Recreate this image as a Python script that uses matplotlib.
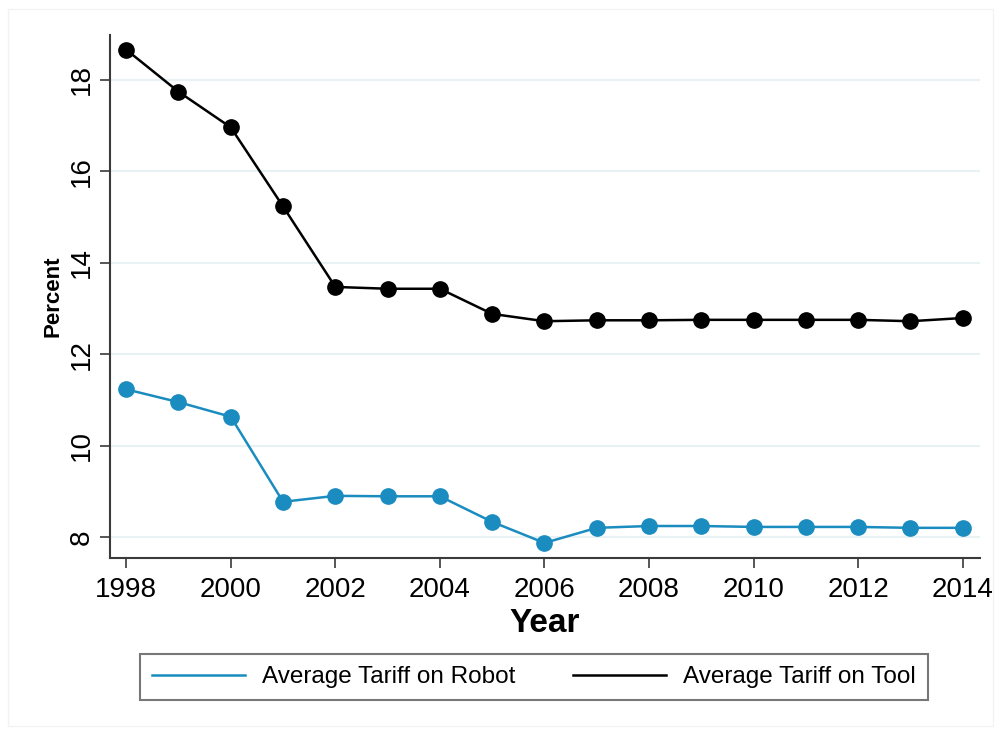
import matplotlib.pyplot as plt
from matplotlib.patches import Rectangle

# Average tariffs (percent)
years = list(range(1998, 2015))
tariff_tool = [18.66, 17.74, 16.96, 15.23, 13.47, 13.43, 13.43, 12.88, 12.72,
               12.74, 12.74, 12.75, 12.75, 12.75, 12.75, 12.72, 12.79]
tariff_robot = [11.23, 10.95, 10.63, 8.77, 8.90, 8.89, 8.89, 8.33, 7.87,
                8.20, 8.24, 8.24, 8.22, 8.22, 8.22, 8.20, 8.20]
x_ticks = list(range(1998, 2015, 2))
y_ticks = [8, 10, 12, 14, 16, 18]

ROBOT = "#1a8cbf"
GRID = "#e8f1f3"

plt.rcParams["font.family"] = ["Liberation Sans", "DejaVu Sans"]

fig = plt.figure(figsize=(10, 7.3), dpi=100)
ax = fig.add_axes([0.110, 0.2356, 0.870, 0.7164])

# faint outer frame like the Stata graph region
fig.patches.append(Rectangle((0.008, 0.005), 0.985, 0.983, transform=fig.transFigure,
                             fill=False, edgecolor="#f3f3f3", lw=1.0))

ax.plot(years, tariff_robot, color=ROBOT, lw=1.8, marker="o", ms=11,
        label="Average Tariff on Robot", zorder=3)
ax.plot(years, tariff_tool, color="black", lw=1.8, marker="o", ms=11,
        label="Average Tariff on Tool", zorder=3)

ax.set_xlim(1997.69, 2014.33)
ax.set_ylim(7.54, 18.98)
ax.set_xticks(x_ticks)
ax.set_yticks(y_ticks)
ax.grid(axis="y", color=GRID, lw=1.5)
ax.set_axisbelow(True)

for s in ["top", "right"]:
    ax.spines[s].set_visible(False)
for s in ["left", "bottom"]:
    ax.spines[s].set_color("#3a3a3a")
    ax.spines[s].set_linewidth(1.5)

ax.tick_params(axis="both", length=7, width=1.2, color="#3a3a3a", labelsize=20)
ax.tick_params(axis="x", pad=7)
ax.tick_params(axis="y", pad=4)
for lab in ax.get_yticklabels():
    lab.set_rotation(90)
    lab.set_va("center")

ax.set_xlabel("Year", fontsize=24, fontweight="bold", labelpad=3)
ax.set_ylabel("Percent", fontsize=16, fontweight="bold", labelpad=4)

leg = fig.legend(handles=ax.get_lines(), loc="upper left",
                 bbox_to_anchor=(0.140, 1 - 654 / 730), borderaxespad=0,
                 ncol=2, frameon=True, fancybox=False, fontsize=17.5,
                 handlelength=3.8, handletextpad=0.7, columnspacing=2.4,
                 borderpad=0.5)
leg.get_frame().set_edgecolor("#555555")
leg.get_frame().set_linewidth(1.5)
for h in leg.legend_handles:
    h.set_marker("")

fig.savefig("out.png", dpi=100)
